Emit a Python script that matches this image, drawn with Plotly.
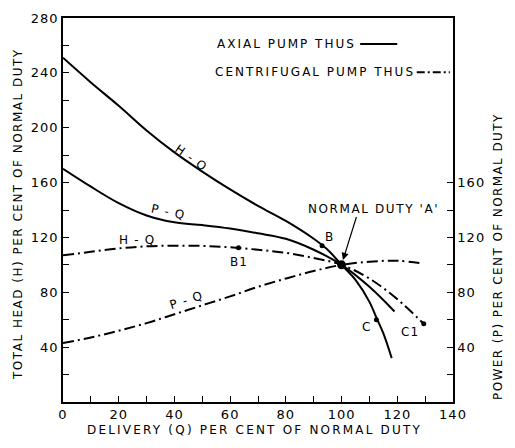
import plotly.graph_objects as go

# delivery Q (% of normal duty) and curve values
axial_hq_q = [0, 10, 20, 30, 40, 50, 60, 70, 80, 90, 95, 100, 105, 110, 112.6, 115, 118]
axial_hq_h = [251, 233, 216, 198, 182, 168, 155, 143, 132, 119, 111, 100, 89, 73, 61, 50, 32]

axial_pq_q = [0, 10, 20, 30, 40, 50, 60, 70, 80, 90, 100, 110, 119]
axial_pq_p = [170, 157, 145, 136, 131, 129, 126.5, 123, 119, 111, 100, 84, 66]

cent_hq_q = [0, 10, 20, 30, 40, 50, 60, 70, 80, 90, 100, 110, 120, 129.5]
cent_hq_h = [107, 109.5, 112, 113.5, 114, 113.8, 112.8, 111, 108.8, 105, 100, 90, 75, 57]

cent_pq_q = [0, 10, 20, 30, 40, 50, 60, 70, 80, 90, 100, 110, 120, 129]
cent_pq_p = [43, 47, 52, 57.5, 64, 70.5, 77, 84, 90, 95.5, 100, 102.3, 103, 101]

point_names = ["B", "B1", "C", "C1"]
point_q = [93, 63, 112.5, 129.5]
point_h = [114, 112.5, 60, 57]
point_label_q = [95.5, 63, 109, 124.5]
point_label_h = [120, 102, 55, 51]

duty_q = [100]
duty_h = [100]

x_ticks = list(range(0, 150, 10))
y_ticks = list(range(20, 300, 20))
y2_ticks = list(range(20, 180, 20))

FONT = "DejaVu Sans"
SOLID = dict(color="black", width=2)
DASHDOT = dict(color="black", width=2, dash="11px,4px,2px,4px")


def spaced(text, px):
    # wide lettering like the original drawing
    return f"<span style='letter-spacing:{px}px'>{text}</span>"


def tick_text(vals, step):
    return [spaced(v, 1) if v % step == 0 else "" for v in vals]


fig = go.Figure()
fig.add_trace(go.Scatter(x=axial_hq_q, y=axial_hq_h, mode="lines", line=dict(SOLID, shape="spline")))
fig.add_trace(go.Scatter(x=axial_pq_q, y=axial_pq_p, mode="lines", line=dict(SOLID, shape="spline")))
fig.add_trace(go.Scatter(x=cent_hq_q, y=cent_hq_h, mode="lines", line=dict(DASHDOT, shape="spline")))
fig.add_trace(go.Scatter(x=cent_pq_q, y=cent_pq_p, mode="lines", line=dict(DASHDOT, shape="spline")))
fig.add_trace(go.Scatter(x=point_q, y=point_h, mode="markers",
                         marker=dict(color="black", size=5)))
fig.add_trace(go.Scatter(x=duty_q, y=duty_h, mode="markers",
                         marker=dict(color="black", size=9)))
# empty trace so the right-hand power axis is drawn
fig.add_trace(go.Scatter(x=[None], y=[None], yaxis="y2", mode="lines"))

ann = []
for name, q, h in zip(point_names, point_label_q, point_label_h):
    ann.append(dict(x=q, y=h, text=spaced(name, 1), showarrow=False, font=dict(size=12)))

ann += [
    dict(x=46, y=178, text=spaced("H - Q", 1.2), textangle=35, showarrow=False, font=dict(size=12)),
    dict(x=38, y=138.5, text=spaced("P - Q", 1.2), textangle=12, showarrow=False, font=dict(size=12)),
    dict(x=26.5, y=118, text=spaced("H - Q", 1.2), showarrow=False, font=dict(size=12)),
    dict(x=44.5, y=74.5, text=spaced("P - Q", 1.2), textangle=-18, showarrow=False, font=dict(size=12)),
    dict(x=111.5, y=141, text=spaced("NORMAL DUTY 'A'", 1.6), showarrow=False, font=dict(size=12)),
    dict(x=100.5, y=103.5, ax=105.5, ay=136, axref="x", ayref="y", text="",
         showarrow=True, arrowhead=2, arrowsize=1.2, arrowwidth=1.2, arrowcolor="black"),
    dict(x=0.572, y=0.932, xref="paper", yref="paper", text=spaced("AXIAL PUMP THUS", 2),
         showarrow=False, xanchor="center", yanchor="middle", font=dict(size=12)),
    dict(x=0.646, y=0.859, xref="paper", yref="paper", text=spaced("CENTRIFUGAL PUMP THUS", 2),
         showarrow=False, xanchor="center", yanchor="middle", font=dict(size=12)),
    dict(x=-0.115, y=0.49, xref="paper", yref="paper",
         text=spaced("TOTAL HEAD (H) PER CENT OF NORMAL DUTY", 1.5),
         textangle=-90, showarrow=False, xanchor="center", yanchor="middle", font=dict(size=12)),
    dict(x=1.115, y=0.38, xref="paper", yref="paper",
         text=spaced("POWER (P) PER CENT OF NORMAL DUTY", 1.4),
         textangle=-90, showarrow=False, xanchor="center", yanchor="middle", font=dict(size=12)),
    dict(x=0.49, y=-0.073, xref="paper", yref="paper",
         text=spaced("DELIVERY (Q) PER CENT OF NORMAL DUTY", 2.2),
         showarrow=False, xanchor="center", yanchor="middle", font=dict(size=12)),
]

axis_style = dict(ticks="inside", ticklen=6, tickwidth=1.2, tickcolor="black",
                  showline=True, linecolor="black", linewidth=1.5,
                  showgrid=False, zeroline=False, tickfont=dict(size=13))

fig.update_layout(
    width=515, height=448,
    margin=dict(l=63, r=62, t=18, b=46),
    paper_bgcolor="white", plot_bgcolor="white",
    showlegend=False,
    font=dict(family=FONT, color="black", size=13),
    annotations=ann,
    shapes=[
        dict(type="line", xref="paper", yref="paper", x0=0.762, x1=0.857, y0=0.932, y1=0.932,
             line=dict(color="black", width=2)),
        dict(type="line", xref="paper", yref="paper", x0=0.907, x1=0.992, y0=0.859, y1=0.859,
             line=dict(color="black", width=2, dash="8px,3px,2px,3px")),
    ],
    xaxis=dict(range=[0, 140], tickvals=x_ticks, ticktext=tick_text(x_ticks, 20),
               mirror=True, **axis_style),
    yaxis=dict(range=[0, 280], tickvals=y_ticks, ticktext=tick_text(y_ticks, 40), **axis_style),
    yaxis2=dict(range=[0, 280], overlaying="y", side="right", tickvals=y2_ticks,
                ticktext=tick_text(y2_ticks, 40), **axis_style),
)

fig.write_html("out.html", config={"displayModeBar": False},
               post_script="document.body.style.margin='0';")
